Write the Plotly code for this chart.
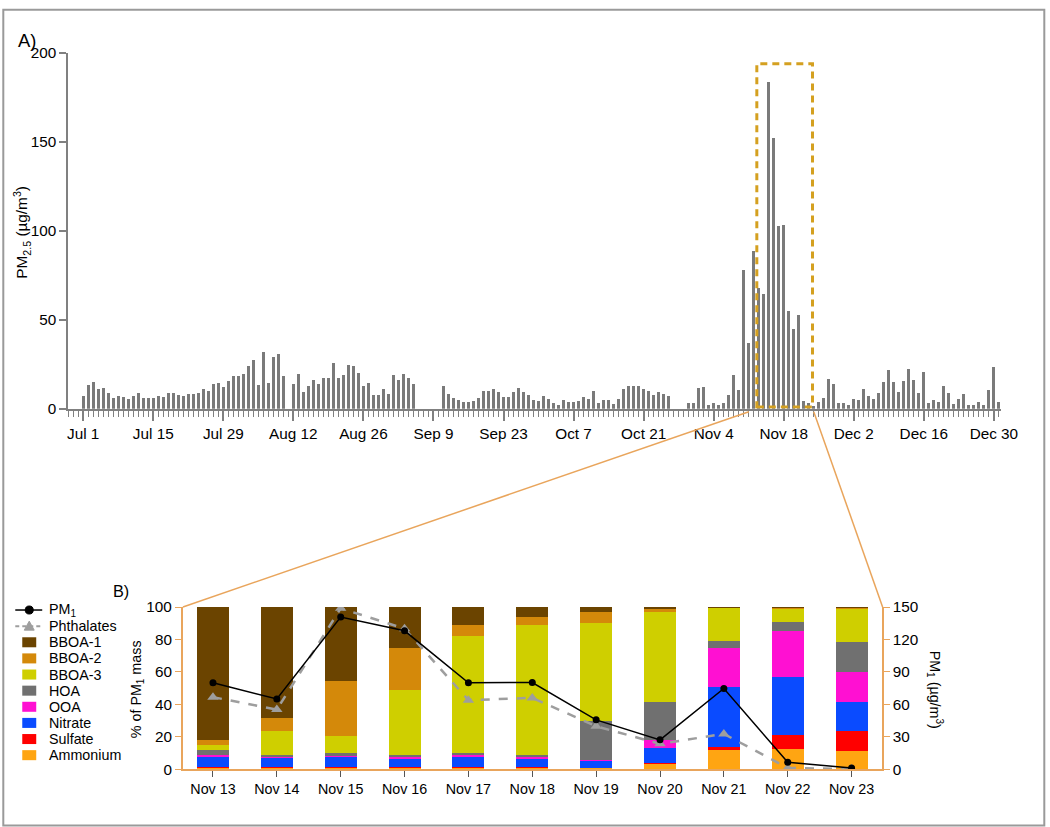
import plotly.graph_objects as go
import pandas as pd

# ---------------- Panel A data: daily PM2.5 (ug/m3), Jul 1 - Dec 31 2018 ----------------
dates = pd.date_range("2018-07-01", "2018-12-31", freq="D")
pm25 = [
    7.4, 13.4, 14.9, 11.2, 11.6, 9.0, 5.8, 7.3, 6.3, 5.6,
    6.9, 8.8, 6.2, 6.2, 6.2, 7.1, 6.3, 8.8, 8.8, 7.8,
    7.1, 8.0, 8.2, 8.6, 10.8, 9.7, 13.6, 14.6, 12.1, 15.7,
    18.2, 18.2, 19.7, 23.8, 27.1, 13.5, 31.8, 14.5, 29.3, 31.0,
    18.5, 0.0, 13.8, 19.3, 9.3, 12.9, 16.3, 13.8, 17.3, 17.2,
    25.7, 17.3, 19.0, 24.3, 23.8, 20.1, 12.9, 14.6, 7.9, 7.5,
    11.0, 8.3, 18.7, 16.2, 19.4, 17.2, 14.0, 0.0, 0.0, 0.0,
    0.0, 0.0, 12.9, 8.2, 6.0, 5.0, 3.7, 3.5, 4.5, 6.2,
    9.9, 10.1, 10.8, 9.5, 6.3, 6.5, 9.5, 11.6, 9.5, 7.6,
    5.0, 4.1, 7.3, 5.4, 3.0, 2.2, 4.7, 3.5, 3.7, 4.1,
    6.5, 5.2, 10.1, 3.0, 4.7, 4.7, 2.6, 5.4, 11.2, 12.9,
    12.7, 12.9, 11.0, 10.1, 7.5, 9.3, 8.4, 7.3, 0.0, 0.0,
    0.0, 3.2, 3.2, 11.4, 12.3, 2.0, 3.4, 2.2, 3.4, 7.5,
    18.7, 10.6, 78.0, 37.0, 88.6, 67.7, 64.4, 184.0, 152.0, 103.0,
    103.5, 54.7, 44.8, 52.6, 4.1, 3.2, 1.3, 3.7, 5.9, 16.5,
    13.9, 3.0, 3.0, 2.0, 5.3, 5.0, 11.3, 7.2, 5.2, 8.7,
    14.8, 22.0, 14.8, 9.6, 15.6, 22.3, 16.0, 9.0, 20.8, 3.0,
    4.8, 3.8, 12.7, 8.6, 2.5, 5.2, 8.3, 2.2, 2.3, 3.6,
    2.2, 10.5, 23.2, 4.0,
]
top_ticks_start = "2018-07-01"

# ---------------- Panel B data: Nov 13 - Nov 23 composition (% of PM1 mass) ----------------
days = ["Nov 13", "Nov 14", "Nov 15", "Nov 16", "Nov 17", "Nov 18",
        "Nov 19", "Nov 20", "Nov 21", "Nov 22", "Nov 23"]
ammonium = [1.0, 1.0, 1.0, 1.0, 1.0, 0.8, 0.8, 3.3, 11.9, 12.6, 11.1]
sulfate  = [0.5, 0.5, 0.5, 0.5, 0.5, 0.4, 0.3, 0.8, 2.1, 8.4, 12.4]
nitrate  = [6.1, 5.5, 6.1, 5.1, 6.1, 5.4, 4.2, 9.1, 36.8, 36.0, 17.9]
ooa      = [1.0, 0.6, 0.7, 1.0, 1.2, 1.0, 0.7, 5.1, 24.1, 28.2, 18.7]
hoa      = [3.1, 1.0, 2.0, 1.4, 1.2, 1.0, 23.6, 23.3, 4.1, 5.7, 18.5]
bboa3    = [3.3, 15.3, 10.5, 40.0, 72.0, 80.3, 60.3, 55.1, 20.6, 8.3, 20.6]
bboa2    = [2.9, 7.8, 33.5, 26.0, 6.9, 4.9, 6.8, 1.9, 0.0, 0.2, 0.2]
bboa1    = [82.1, 68.3, 45.7, 25.0, 11.1, 6.2, 3.3, 1.4, 0.4, 0.6, 0.6]
pm1        = [80.0, 65.0, 140.7, 128.0, 80.0, 80.2, 45.7, 27.2, 74.7, 6.5, 1.2]
phthalates = [66.7, 55.2, 148.8, 130.0, 63.9, 66.0, 39.8, 23.5, 32.7, 1.2, 0.3]

# Layout helpers: positions are given in target-picture pixels and converted
# to paper fractions (the captured picture is slightly rescaled/offset).
W, H = 1066, 836
SX, OXP = 0.985, 0.7
SY, OYP = 0.978, 9.0


def px(x):
    return ((x - OXP) / SX) / W


def py(y):
    return 1 - ((y - OYP) / SY) / H


def fs(s):
    return round(s / 0.98, 1)


FONT = "Liberation Sans, Arial, sans-serif"
GRAY = "#808080"
ORANGE = "#E9A55C"
PHTH_GRAY = "#9e9e9e"

fig = go.Figure()

fig.add_trace(go.Bar(
    x=dates, y=pm25, marker=dict(color="#7a7a7a", line=dict(width=0)),
    width=0.6 * 86400000, xaxis="x", yaxis="y", showlegend=False,
    name="PM2.5",
))

components = [
    ("Ammonium", ammonium, "#FFA512"),
    ("Sulfate", sulfate, "#FF0000"),
    ("Nitrate", nitrate, "#0A4BFF"),
    ("OOA", ooa, "#FF10D2"),
    ("HOA", hoa, "#707070"),
    ("BBOA-3", bboa3, "#CFCF00"),
    ("BBOA-2", bboa2, "#D4890A"),
    ("BBOA-1", bboa1, "#6B4400"),
]
for name, vals, col in components:
    fig.add_trace(go.Bar(
        x=days, y=vals, name=name, width=0.5, showlegend=False,
        marker=dict(color=col, line=dict(width=0)),
        xaxis="x2", yaxis="y2",
    ))

fig.add_trace(go.Scatter(
    x=days, y=phthalates, name="Phthalates", mode="lines+markers",
    line=dict(color=PHTH_GRAY, dash="dash", width=2.5), showlegend=False,
    marker=dict(symbol="triangle-up", size=10, color=PHTH_GRAY),
    xaxis="x2", yaxis="y3",
))
fig.add_trace(go.Scatter(
    x=days, y=pm1, name="PM<sub>1</sub>", mode="lines+markers",
    line=dict(color="black", width=1.5), showlegend=False,
    marker=dict(symbol="circle", size=7, color="black"),
    xaxis="x2", yaxis="y3",
))

fig.update_layout(
    width=W, height=H, autosize=False,
    margin=dict(l=0, r=0, t=0, b=0),
    paper_bgcolor="white", plot_bgcolor="white",
    barmode="stack", showlegend=False,
    font=dict(family=FONT, size=fs(15), color="black"),
    xaxis=dict(
        type="date", domain=[px(68), px(1003)], anchor="y",
        range=["2018-06-28", "2018-12-31 12:00"],
        tick0=top_ticks_start, dtick=14 * 86400000, tickformat="%b %-d",
        ticks="outside", ticklen=10, tickwidth=1.5, tickcolor=GRAY,
        minor=dict(tick0=top_ticks_start, dtick=86400000, ticks="outside",
                   ticklen=6, tickwidth=1, tickcolor=GRAY),
        showline=True, linecolor=GRAY, linewidth=2, showgrid=False,
        zeroline=False, tickfont=dict(size=fs(15)),
    ),
    yaxis=dict(
        domain=[py(408), py(53)], anchor="x", range=[0, 200],
        tickvals=[0, 50, 100, 150, 200], ticks="outside", ticklen=7,
        tickcolor=GRAY, tickwidth=1.5, showline=True, linecolor=GRAY,
        linewidth=1.5, showgrid=False, zeroline=False, tickfont=dict(size=fs(15)),
    ),
    xaxis2=dict(
        type="category", domain=[px(183), px(883)], anchor="y2",
        range=[-0.47, 10.47], ticks="outside", ticklen=6, tickcolor="#555555",
        showline=True, linecolor=ORANGE, linewidth=2, showgrid=False,
        tickfont=dict(size=fs(14)),
    ),
    yaxis2=dict(
        domain=[py(768), py(606)], anchor="x2", range=[0, 100], dtick=20,
        ticks="outside", ticklen=6, tickcolor=ORANGE, showline=True,
        linecolor=ORANGE, linewidth=2, showgrid=False, zeroline=False,
        tickfont=dict(size=fs(15)),
    ),
    yaxis3=dict(
        overlaying="y2", side="right", anchor="x2", range=[0, 150], dtick=30,
        ticks="outside", ticklen=6, tickcolor=ORANGE, showline=True,
        linecolor=ORANGE, linewidth=2, showgrid=False, zeroline=False,
        tickfont=dict(size=fs(15)),
    ),
)

shapes = [
    # outer frame
    dict(type="rect", xref="paper", yref="paper", x0=px(3), x1=px(1046),
         y0=py(824), y1=0.999, line=dict(color="#9a9a9a", width=2)),
    # dashed zoom box
    dict(type="rect", xref="x", yref="y", x0="2018-11-12 15:00",
         x1="2018-11-23 18:00", y0=1, y1=194,
         line=dict(color="#D4A020", width=3, dash="7px,5px")),
    # connector lines
    dict(type="line", xref="paper", yref="paper", x0=px(750), y0=py(411),
         x1=px(183), y1=py(606), line=dict(color=ORANGE, width=1.5)),
    dict(type="line", xref="paper", yref="paper", x0=px(815), y0=py(411),
         x1=px(884), y1=py(606), line=dict(color=ORANGE, width=1.5)),
]

annotations = [
    dict(text="A)", x=px(16), y=py(40), xref="paper", yref="paper",
         xanchor="left", yanchor="middle", showarrow=False, font=dict(size=fs(18))),
    dict(text="B)", x=px(121), y=py(590), xref="paper", yref="paper",
         xanchor="center", yanchor="middle", showarrow=False, font=dict(size=fs(16))),
    dict(text="PM<sub>2.5</sub> (µg/m<sup>3</sup>)", x=px(22), y=py(232),
         xref="paper", yref="paper", textangle=-90, showarrow=False,
         xanchor="center", yanchor="middle", font=dict(size=fs(15))),
    dict(text="% of PM<sub>1</sub> mass", x=px(137), y=py(688),
         xref="paper", yref="paper", textangle=-90, showarrow=False,
         xanchor="center", yanchor="middle", font=dict(size=fs(14))),
    dict(text="PM<sub>1</sub> (µg/m<sup>3</sup>)", x=px(936), y=py(688),
         xref="paper", yref="paper", textangle=90, showarrow=False,
         xanchor="center", yanchor="middle", font=dict(size=fs(14))),
]

# ---------------- legend (key swatches + text) ----------------
LEG_X0, LEG_X1, LEG_XC, LEG_TX = 15, 42, 29, 47
legend_rows = [("PM<sub>1</sub>", "line", "black"),
               ("Phthalates", "dash", PHTH_GRAY)] + \
              [(n, "box", c) for n, _, c in reversed(components)]
row_y = 609
for label, kind, col in legend_rows:
    if kind == "line":
        shapes.append(dict(type="line", xref="paper", yref="paper",
                           x0=px(LEG_X0), x1=px(LEG_X1), y0=py(row_y), y1=py(row_y),
                           line=dict(color=col, width=1.5)))
        shapes.append(dict(type="circle", xref="paper", yref="paper",
                           x0=px(LEG_XC - 4), x1=px(LEG_XC + 4),
                           y0=py(row_y + 4), y1=py(row_y - 4),
                           fillcolor=col, line=dict(color=col, width=1)))
    elif kind == "dash":
        shapes.append(dict(type="line", xref="paper", yref="paper",
                           x0=px(LEG_X0), x1=px(LEG_X1), y0=py(row_y), y1=py(row_y),
                           line=dict(color=col, width=2, dash="4px,3px")))
        path = "M {:.5f},{:.5f} L {:.5f},{:.5f} L {:.5f},{:.5f} Z".format(
            px(LEG_XC - 5), py(row_y + 4), px(LEG_XC + 5), py(row_y + 4),
            px(LEG_XC), py(row_y - 5))
        shapes.append(dict(type="path", xref="paper", yref="paper", path=path,
                           fillcolor=col, line=dict(color=col, width=1)))
    else:
        shapes.append(dict(type="rect", xref="paper", yref="paper",
                           x0=px(22), x1=px(36), y0=py(row_y + 5), y1=py(row_y - 5),
                           fillcolor=col, line=dict(width=0)))
    annotations.append(dict(text=label, x=px(LEG_TX), y=py(row_y), xref="paper",
                            yref="paper", xanchor="left", yanchor="middle",
                            showarrow=False, font=dict(size=fs(14))))
    row_y += 16.1

fig.update_layout(shapes=shapes, annotations=annotations)

fig.write_html(
    "out.html",
    config={"displayModeBar": False},
    post_script="document.body.style.margin='0px';document.body.style.overflow='hidden';",
)
